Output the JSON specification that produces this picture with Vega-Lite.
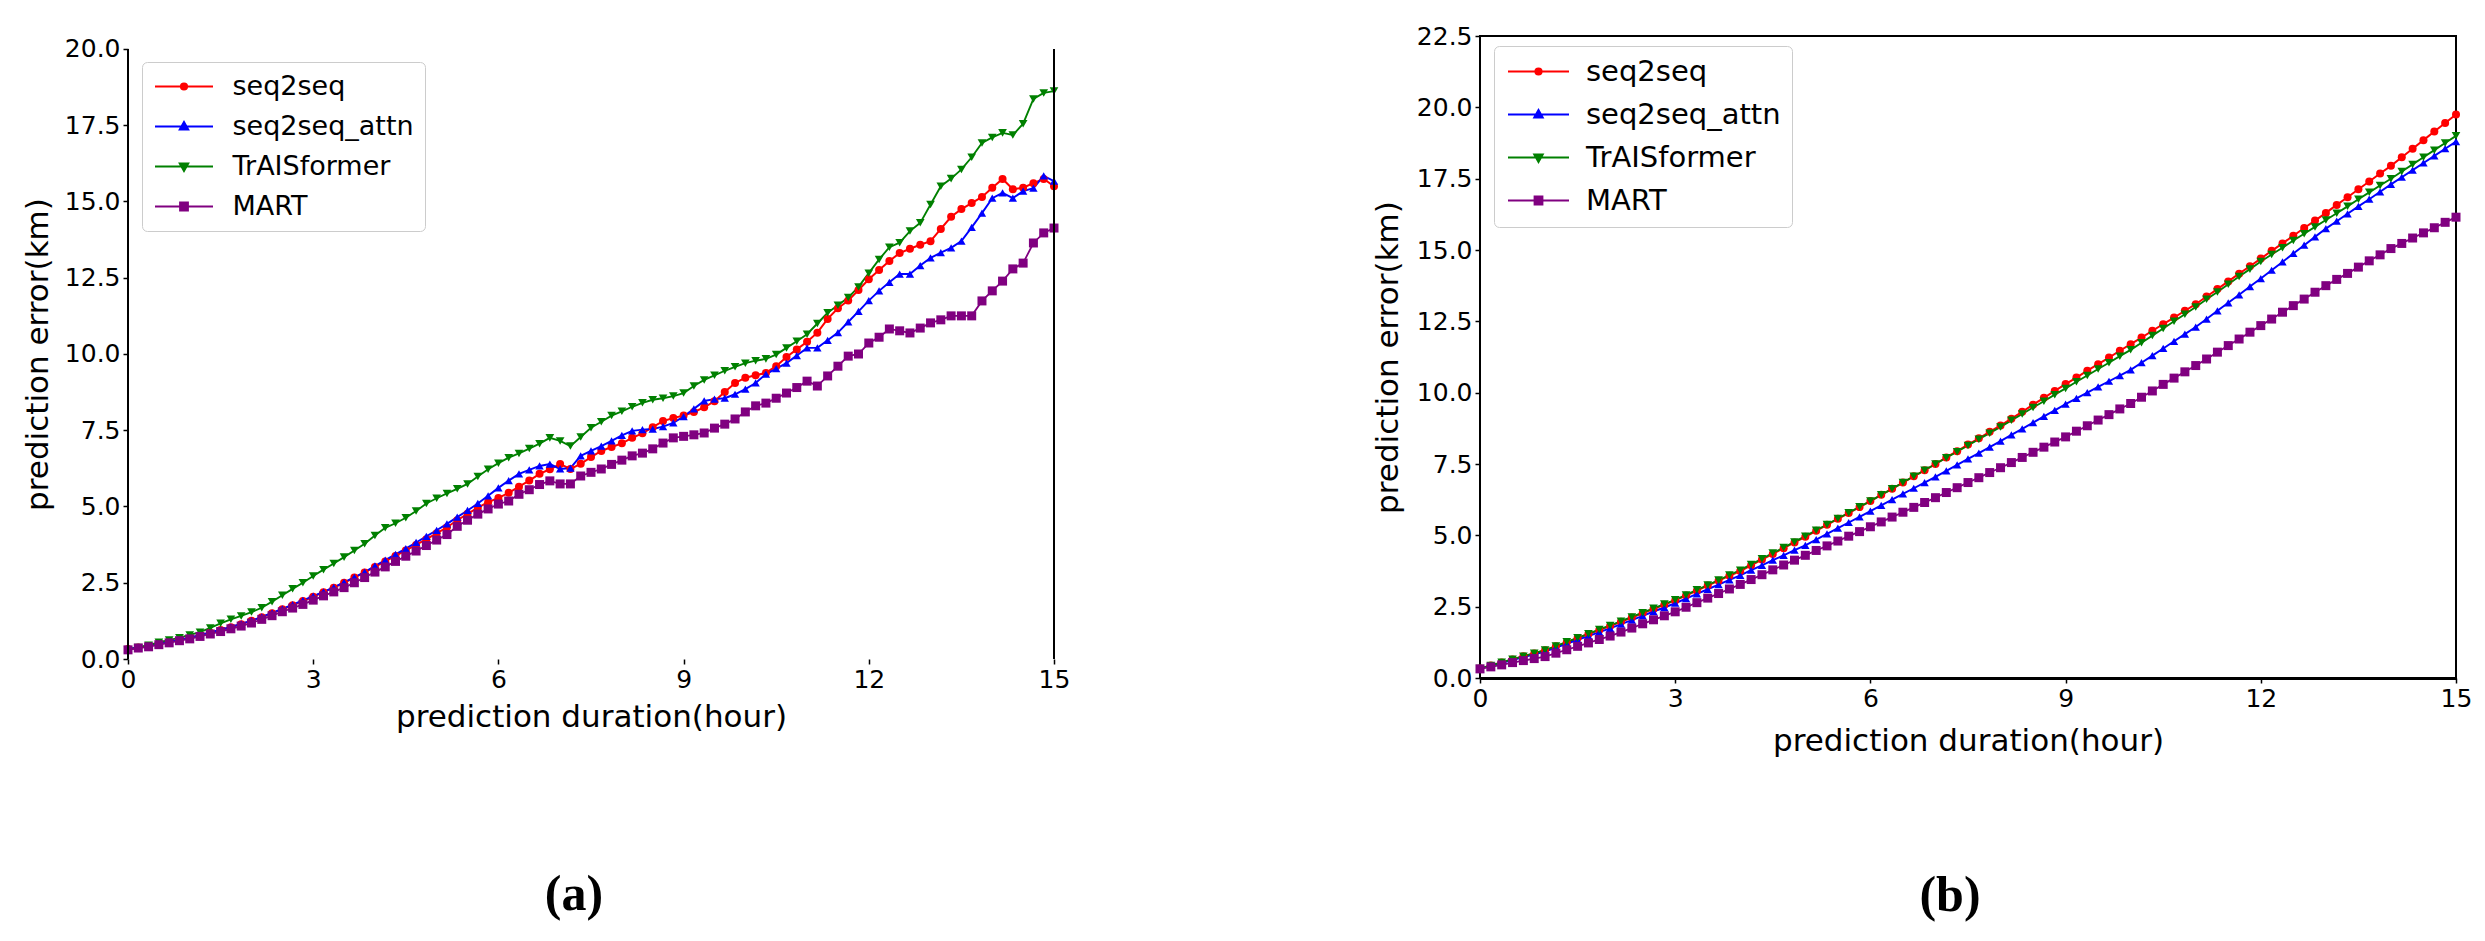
{
  "$schema": "https://vega.github.io/schema/vega-lite/v6.json",
  "padding": {"left": 22, "top": 23, "right": 10, "bottom": 10},
  "bounds": "flush",
  "spacing": 426,
  "datasets": {
    "a": [
      {"model":"seq2seq","t":0,"err":0.33},{"model":"seq2seq","t":10,"err":0.38},{"model":"seq2seq","t":20,"err":0.43},{"model":"seq2seq","t":30,"err":0.49},{"model":"seq2seq","t":40,"err":0.56},{"model":"seq2seq","t":50,"err":0.63},{"model":"seq2seq","t":60,"err":0.70},{"model":"seq2seq","t":70,"err":0.78},{"model":"seq2seq","t":80,"err":0.86},{"model":"seq2seq","t":90,"err":0.95},
      {"model":"seq2seq","t":100,"err":1.04},{"model":"seq2seq","t":110,"err":1.14},{"model":"seq2seq","t":120,"err":1.25},{"model":"seq2seq","t":130,"err":1.37},{"model":"seq2seq","t":140,"err":1.50},{"model":"seq2seq","t":150,"err":1.63},{"model":"seq2seq","t":160,"err":1.76},{"model":"seq2seq","t":170,"err":1.90},{"model":"seq2seq","t":180,"err":2.04},{"model":"seq2seq","t":190,"err":2.19},
      {"model":"seq2seq","t":200,"err":2.34},{"model":"seq2seq","t":210,"err":2.50},{"model":"seq2seq","t":220,"err":2.67},{"model":"seq2seq","t":230,"err":2.84},{"model":"seq2seq","t":240,"err":3.02},{"model":"seq2seq","t":250,"err":3.20},{"model":"seq2seq","t":260,"err":3.38},{"model":"seq2seq","t":270,"err":3.56},{"model":"seq2seq","t":280,"err":3.74},{"model":"seq2seq","t":290,"err":3.93},
      {"model":"seq2seq","t":300,"err":4.12},{"model":"seq2seq","t":310,"err":4.32},{"model":"seq2seq","t":320,"err":4.55},{"model":"seq2seq","t":330,"err":4.76},{"model":"seq2seq","t":340,"err":4.96},{"model":"seq2seq","t":350,"err":5.14},{"model":"seq2seq","t":360,"err":5.28},{"model":"seq2seq","t":370,"err":5.45},{"model":"seq2seq","t":380,"err":5.65},{"model":"seq2seq","t":390,"err":5.85},
      {"model":"seq2seq","t":400,"err":6.07},{"model":"seq2seq","t":410,"err":6.22},{"model":"seq2seq","t":420,"err":6.39},{"model":"seq2seq","t":430,"err":6.23},{"model":"seq2seq","t":440,"err":6.40},{"model":"seq2seq","t":450,"err":6.62},{"model":"seq2seq","t":460,"err":6.82},{"model":"seq2seq","t":470,"err":6.95},{"model":"seq2seq","t":480,"err":7.07},{"model":"seq2seq","t":490,"err":7.25},
      {"model":"seq2seq","t":500,"err":7.40},{"model":"seq2seq","t":510,"err":7.60},{"model":"seq2seq","t":520,"err":7.80},{"model":"seq2seq","t":530,"err":7.90},{"model":"seq2seq","t":540,"err":7.98},{"model":"seq2seq","t":550,"err":8.10},{"model":"seq2seq","t":560,"err":8.25},{"model":"seq2seq","t":570,"err":8.45},{"model":"seq2seq","t":580,"err":8.75},{"model":"seq2seq","t":590,"err":9.05},
      {"model":"seq2seq","t":600,"err":9.22},{"model":"seq2seq","t":610,"err":9.30},{"model":"seq2seq","t":620,"err":9.38},{"model":"seq2seq","t":630,"err":9.60},{"model":"seq2seq","t":640,"err":9.90},{"model":"seq2seq","t":650,"err":10.15},{"model":"seq2seq","t":660,"err":10.40},{"model":"seq2seq","t":670,"err":10.70},{"model":"seq2seq","t":680,"err":11.15},{"model":"seq2seq","t":690,"err":11.50},
      {"model":"seq2seq","t":700,"err":11.75},{"model":"seq2seq","t":710,"err":12.10},{"model":"seq2seq","t":720,"err":12.45},{"model":"seq2seq","t":730,"err":12.75},{"model":"seq2seq","t":740,"err":13.05},{"model":"seq2seq","t":750,"err":13.31},{"model":"seq2seq","t":760,"err":13.45},{"model":"seq2seq","t":770,"err":13.58},{"model":"seq2seq","t":780,"err":13.70},{"model":"seq2seq","t":790,"err":14.10},
      {"model":"seq2seq","t":800,"err":14.50},{"model":"seq2seq","t":810,"err":14.75},{"model":"seq2seq","t":820,"err":14.95},{"model":"seq2seq","t":830,"err":15.15},{"model":"seq2seq","t":840,"err":15.45},{"model":"seq2seq","t":850,"err":15.74},{"model":"seq2seq","t":860,"err":15.40},{"model":"seq2seq","t":870,"err":15.45},{"model":"seq2seq","t":880,"err":15.60},{"model":"seq2seq","t":890,"err":15.74},
      {"model":"seq2seq","t":900,"err":15.50},
      {"model":"seq2seq_attn","t":0,"err":0.33},{"model":"seq2seq_attn","t":10,"err":0.38},{"model":"seq2seq_attn","t":20,"err":0.44},{"model":"seq2seq_attn","t":30,"err":0.50},{"model":"seq2seq_attn","t":40,"err":0.56},{"model":"seq2seq_attn","t":50,"err":0.63},{"model":"seq2seq_attn","t":60,"err":0.70},{"model":"seq2seq_attn","t":70,"err":0.78},{"model":"seq2seq_attn","t":80,"err":0.87},{"model":"seq2seq_attn","t":90,"err":0.96},
      {"model":"seq2seq_attn","t":100,"err":1.05},{"model":"seq2seq_attn","t":110,"err":1.15},{"model":"seq2seq_attn","t":120,"err":1.26},{"model":"seq2seq_attn","t":130,"err":1.38},{"model":"seq2seq_attn","t":140,"err":1.51},{"model":"seq2seq_attn","t":150,"err":1.64},{"model":"seq2seq_attn","t":160,"err":1.78},{"model":"seq2seq_attn","t":170,"err":1.92},{"model":"seq2seq_attn","t":180,"err":2.06},{"model":"seq2seq_attn","t":190,"err":2.20},
      {"model":"seq2seq_attn","t":200,"err":2.35},{"model":"seq2seq_attn","t":210,"err":2.51},{"model":"seq2seq_attn","t":220,"err":2.68},{"model":"seq2seq_attn","t":230,"err":2.85},{"model":"seq2seq_attn","t":240,"err":3.05},{"model":"seq2seq_attn","t":250,"err":3.24},{"model":"seq2seq_attn","t":260,"err":3.43},{"model":"seq2seq_attn","t":270,"err":3.62},{"model":"seq2seq_attn","t":280,"err":3.82},{"model":"seq2seq_attn","t":290,"err":4.02},
      {"model":"seq2seq_attn","t":300,"err":4.22},{"model":"seq2seq_attn","t":310,"err":4.43},{"model":"seq2seq_attn","t":320,"err":4.65},{"model":"seq2seq_attn","t":330,"err":4.87},{"model":"seq2seq_attn","t":340,"err":5.10},{"model":"seq2seq_attn","t":350,"err":5.35},{"model":"seq2seq_attn","t":360,"err":5.61},{"model":"seq2seq_attn","t":370,"err":5.85},{"model":"seq2seq_attn","t":380,"err":6.07},{"model":"seq2seq_attn","t":390,"err":6.20},
      {"model":"seq2seq_attn","t":400,"err":6.33},{"model":"seq2seq_attn","t":410,"err":6.39},{"model":"seq2seq_attn","t":420,"err":6.23},{"model":"seq2seq_attn","t":430,"err":6.26},{"model":"seq2seq_attn","t":440,"err":6.66},{"model":"seq2seq_attn","t":450,"err":6.82},{"model":"seq2seq_attn","t":460,"err":6.98},{"model":"seq2seq_attn","t":470,"err":7.15},{"model":"seq2seq_attn","t":480,"err":7.33},{"model":"seq2seq_attn","t":490,"err":7.48},
      {"model":"seq2seq_attn","t":500,"err":7.52},{"model":"seq2seq_attn","t":510,"err":7.54},{"model":"seq2seq_attn","t":520,"err":7.62},{"model":"seq2seq_attn","t":530,"err":7.74},{"model":"seq2seq_attn","t":540,"err":7.95},{"model":"seq2seq_attn","t":550,"err":8.20},{"model":"seq2seq_attn","t":560,"err":8.46},{"model":"seq2seq_attn","t":570,"err":8.52},{"model":"seq2seq_attn","t":580,"err":8.55},{"model":"seq2seq_attn","t":590,"err":8.68},
      {"model":"seq2seq_attn","t":600,"err":8.85},{"model":"seq2seq_attn","t":610,"err":9.05},{"model":"seq2seq_attn","t":620,"err":9.34},{"model":"seq2seq_attn","t":630,"err":9.52},{"model":"seq2seq_attn","t":640,"err":9.70},{"model":"seq2seq_attn","t":650,"err":9.95},{"model":"seq2seq_attn","t":660,"err":10.20},{"model":"seq2seq_attn","t":670,"err":10.20},{"model":"seq2seq_attn","t":680,"err":10.45},{"model":"seq2seq_attn","t":690,"err":10.70},
      {"model":"seq2seq_attn","t":700,"err":11.05},{"model":"seq2seq_attn","t":710,"err":11.40},{"model":"seq2seq_attn","t":720,"err":11.75},{"model":"seq2seq_attn","t":730,"err":12.07},{"model":"seq2seq_attn","t":740,"err":12.35},{"model":"seq2seq_attn","t":750,"err":12.62},{"model":"seq2seq_attn","t":760,"err":12.62},{"model":"seq2seq_attn","t":770,"err":12.90},{"model":"seq2seq_attn","t":780,"err":13.15},{"model":"seq2seq_attn","t":790,"err":13.32},
      {"model":"seq2seq_attn","t":800,"err":13.48},{"model":"seq2seq_attn","t":810,"err":13.70},{"model":"seq2seq_attn","t":820,"err":14.15},{"model":"seq2seq_attn","t":830,"err":14.62},{"model":"seq2seq_attn","t":840,"err":15.11},{"model":"seq2seq_attn","t":850,"err":15.28},{"model":"seq2seq_attn","t":860,"err":15.11},{"model":"seq2seq_attn","t":870,"err":15.34},{"model":"seq2seq_attn","t":880,"err":15.44},{"model":"seq2seq_attn","t":890,"err":15.84},
      {"model":"seq2seq_attn","t":900,"err":15.67},
      {"model":"TrAISformer","t":0,"err":0.30},{"model":"TrAISformer","t":10,"err":0.38},{"model":"TrAISformer","t":20,"err":0.45},{"model":"TrAISformer","t":30,"err":0.55},{"model":"TrAISformer","t":40,"err":0.62},{"model":"TrAISformer","t":50,"err":0.70},{"model":"TrAISformer","t":60,"err":0.79},{"model":"TrAISformer","t":70,"err":0.88},{"model":"TrAISformer","t":80,"err":1.02},{"model":"TrAISformer","t":90,"err":1.17},
      {"model":"TrAISformer","t":100,"err":1.30},{"model":"TrAISformer","t":110,"err":1.41},{"model":"TrAISformer","t":120,"err":1.54},{"model":"TrAISformer","t":130,"err":1.68},{"model":"TrAISformer","t":140,"err":1.88},{"model":"TrAISformer","t":150,"err":2.09},{"model":"TrAISformer","t":160,"err":2.30},{"model":"TrAISformer","t":170,"err":2.50},{"model":"TrAISformer","t":180,"err":2.72},{"model":"TrAISformer","t":190,"err":2.93},
      {"model":"TrAISformer","t":200,"err":3.13},{"model":"TrAISformer","t":210,"err":3.34},{"model":"TrAISformer","t":220,"err":3.56},{"model":"TrAISformer","t":230,"err":3.78},{"model":"TrAISformer","t":240,"err":4.05},{"model":"TrAISformer","t":250,"err":4.30},{"model":"TrAISformer","t":260,"err":4.45},{"model":"TrAISformer","t":270,"err":4.63},{"model":"TrAISformer","t":280,"err":4.85},{"model":"TrAISformer","t":290,"err":5.10},
      {"model":"TrAISformer","t":300,"err":5.27},{"model":"TrAISformer","t":310,"err":5.43},{"model":"TrAISformer","t":320,"err":5.58},{"model":"TrAISformer","t":330,"err":5.74},{"model":"TrAISformer","t":340,"err":5.98},{"model":"TrAISformer","t":350,"err":6.22},{"model":"TrAISformer","t":360,"err":6.42},{"model":"TrAISformer","t":370,"err":6.60},{"model":"TrAISformer","t":380,"err":6.74},{"model":"TrAISformer","t":390,"err":6.90},
      {"model":"TrAISformer","t":400,"err":7.06},{"model":"TrAISformer","t":410,"err":7.25},{"model":"TrAISformer","t":420,"err":7.15},{"model":"TrAISformer","t":430,"err":6.98},{"model":"TrAISformer","t":440,"err":7.28},{"model":"TrAISformer","t":450,"err":7.58},{"model":"TrAISformer","t":460,"err":7.78},{"model":"TrAISformer","t":470,"err":7.98},{"model":"TrAISformer","t":480,"err":8.12},{"model":"TrAISformer","t":490,"err":8.27},
      {"model":"TrAISformer","t":500,"err":8.40},{"model":"TrAISformer","t":510,"err":8.50},{"model":"TrAISformer","t":520,"err":8.55},{"model":"TrAISformer","t":530,"err":8.62},{"model":"TrAISformer","t":540,"err":8.72},{"model":"TrAISformer","t":550,"err":8.95},{"model":"TrAISformer","t":560,"err":9.15},{"model":"TrAISformer","t":570,"err":9.30},{"model":"TrAISformer","t":580,"err":9.45},{"model":"TrAISformer","t":590,"err":9.58},
      {"model":"TrAISformer","t":600,"err":9.70},{"model":"TrAISformer","t":610,"err":9.78},{"model":"TrAISformer","t":620,"err":9.84},{"model":"TrAISformer","t":630,"err":9.98},{"model":"TrAISformer","t":640,"err":10.20},{"model":"TrAISformer","t":650,"err":10.42},{"model":"TrAISformer","t":660,"err":10.65},{"model":"TrAISformer","t":670,"err":11.00},{"model":"TrAISformer","t":680,"err":11.35},{"model":"TrAISformer","t":690,"err":11.60},
      {"model":"TrAISformer","t":700,"err":11.85},{"model":"TrAISformer","t":710,"err":12.20},{"model":"TrAISformer","t":720,"err":12.65},{"model":"TrAISformer","t":730,"err":13.10},{"model":"TrAISformer","t":740,"err":13.50},{"model":"TrAISformer","t":750,"err":13.65},{"model":"TrAISformer","t":760,"err":14.03},{"model":"TrAISformer","t":770,"err":14.30},{"model":"TrAISformer","t":780,"err":14.90},{"model":"TrAISformer","t":790,"err":15.50},
      {"model":"TrAISformer","t":800,"err":15.75},{"model":"TrAISformer","t":810,"err":16.05},{"model":"TrAISformer","t":820,"err":16.45},{"model":"TrAISformer","t":830,"err":16.92},{"model":"TrAISformer","t":840,"err":17.10},{"model":"TrAISformer","t":850,"err":17.25},{"model":"TrAISformer","t":860,"err":17.18},{"model":"TrAISformer","t":870,"err":17.55},{"model":"TrAISformer","t":880,"err":18.36},{"model":"TrAISformer","t":890,"err":18.56},
      {"model":"TrAISformer","t":900,"err":18.62},
      {"model":"MART","t":0,"err":0.30},{"model":"MART","t":10,"err":0.36},{"model":"MART","t":20,"err":0.40},{"model":"MART","t":30,"err":0.47},{"model":"MART","t":40,"err":0.53},{"model":"MART","t":50,"err":0.60},{"model":"MART","t":60,"err":0.66},{"model":"MART","t":70,"err":0.74},{"model":"MART","t":80,"err":0.82},{"model":"MART","t":90,"err":0.90},
      {"model":"MART","t":100,"err":0.99},{"model":"MART","t":110,"err":1.08},{"model":"MART","t":120,"err":1.18},{"model":"MART","t":130,"err":1.30},{"model":"MART","t":140,"err":1.42},{"model":"MART","t":150,"err":1.55},{"model":"MART","t":160,"err":1.67},{"model":"MART","t":170,"err":1.79},{"model":"MART","t":180,"err":1.93},{"model":"MART","t":190,"err":2.07},
      {"model":"MART","t":200,"err":2.20},{"model":"MART","t":210,"err":2.34},{"model":"MART","t":220,"err":2.50},{"model":"MART","t":230,"err":2.67},{"model":"MART","t":240,"err":2.85},{"model":"MART","t":250,"err":3.02},{"model":"MART","t":260,"err":3.20},{"model":"MART","t":270,"err":3.37},{"model":"MART","t":280,"err":3.54},{"model":"MART","t":290,"err":3.72},
      {"model":"MART","t":300,"err":3.90},{"model":"MART","t":310,"err":4.08},{"model":"MART","t":320,"err":4.35},{"model":"MART","t":330,"err":4.55},{"model":"MART","t":340,"err":4.75},{"model":"MART","t":350,"err":4.92},{"model":"MART","t":360,"err":5.08},{"model":"MART","t":370,"err":5.18},{"model":"MART","t":380,"err":5.40},{"model":"MART","t":390,"err":5.55},
      {"model":"MART","t":400,"err":5.72},{"model":"MART","t":410,"err":5.84},{"model":"MART","t":420,"err":5.74},{"model":"MART","t":430,"err":5.74},{"model":"MART","t":440,"err":6.00},{"model":"MART","t":450,"err":6.12},{"model":"MART","t":460,"err":6.23},{"model":"MART","t":470,"err":6.38},{"model":"MART","t":480,"err":6.52},{"model":"MART","t":490,"err":6.66},
      {"model":"MART","t":500,"err":6.75},{"model":"MART","t":510,"err":6.89},{"model":"MART","t":520,"err":7.08},{"model":"MART","t":530,"err":7.25},{"model":"MART","t":540,"err":7.30},{"model":"MART","t":550,"err":7.35},{"model":"MART","t":560,"err":7.41},{"model":"MART","t":570,"err":7.57},{"model":"MART","t":580,"err":7.70},{"model":"MART","t":590,"err":7.87},
      {"model":"MART","t":600,"err":8.10},{"model":"MART","t":610,"err":8.30},{"model":"MART","t":620,"err":8.39},{"model":"MART","t":630,"err":8.55},{"model":"MART","t":640,"err":8.72},{"model":"MART","t":650,"err":8.90},{"model":"MART","t":660,"err":9.11},{"model":"MART","t":670,"err":8.95},{"model":"MART","t":680,"err":9.28},{"model":"MART","t":690,"err":9.60},
      {"model":"MART","t":700,"err":9.93},{"model":"MART","t":710,"err":10.00},{"model":"MART","t":720,"err":10.36},{"model":"MART","t":730,"err":10.55},{"model":"MART","t":740,"err":10.82},{"model":"MART","t":750,"err":10.76},{"model":"MART","t":760,"err":10.69},{"model":"MART","t":770,"err":10.85},{"model":"MART","t":780,"err":11.02},{"model":"MART","t":790,"err":11.12},
      {"model":"MART","t":800,"err":11.25},{"model":"MART","t":810,"err":11.25},{"model":"MART","t":820,"err":11.25},{"model":"MART","t":830,"err":11.74},{"model":"MART","t":840,"err":12.07},{"model":"MART","t":850,"err":12.39},{"model":"MART","t":860,"err":12.79},{"model":"MART","t":870,"err":12.98},{"model":"MART","t":880,"err":13.64},{"model":"MART","t":890,"err":13.97},
      {"model":"MART","t":900,"err":14.13}
    ],
    "b": [
      {"model":"seq2seq","t":0,"err":0.33},{"model":"seq2seq","t":10,"err":0.44},{"model":"seq2seq","t":20,"err":0.54},{"model":"seq2seq","t":30,"err":0.65},{"model":"seq2seq","t":40,"err":0.76},{"model":"seq2seq","t":50,"err":0.86},
      {"model":"seq2seq","t":60,"err":0.97},{"model":"seq2seq","t":70,"err":1.11},{"model":"seq2seq","t":80,"err":1.25},{"model":"seq2seq","t":90,"err":1.40},{"model":"seq2seq","t":100,"err":1.54},{"model":"seq2seq","t":110,"err":1.68},
      {"model":"seq2seq","t":120,"err":1.82},{"model":"seq2seq","t":130,"err":1.97},{"model":"seq2seq","t":140,"err":2.12},{"model":"seq2seq","t":150,"err":2.27},{"model":"seq2seq","t":160,"err":2.42},{"model":"seq2seq","t":170,"err":2.57},
      {"model":"seq2seq","t":180,"err":2.72},{"model":"seq2seq","t":190,"err":2.89},{"model":"seq2seq","t":200,"err":3.06},{"model":"seq2seq","t":210,"err":3.24},{"model":"seq2seq","t":220,"err":3.41},{"model":"seq2seq","t":230,"err":3.58},
      {"model":"seq2seq","t":240,"err":3.75},{"model":"seq2seq","t":250,"err":3.95},{"model":"seq2seq","t":260,"err":4.15},{"model":"seq2seq","t":270,"err":4.35},{"model":"seq2seq","t":280,"err":4.55},{"model":"seq2seq","t":290,"err":4.75},
      {"model":"seq2seq","t":300,"err":4.95},{"model":"seq2seq","t":310,"err":5.16},{"model":"seq2seq","t":320,"err":5.37},{"model":"seq2seq","t":330,"err":5.58},{"model":"seq2seq","t":340,"err":5.78},{"model":"seq2seq","t":350,"err":5.99},
      {"model":"seq2seq","t":360,"err":6.20},{"model":"seq2seq","t":370,"err":6.42},{"model":"seq2seq","t":380,"err":6.63},{"model":"seq2seq","t":390,"err":6.85},{"model":"seq2seq","t":400,"err":7.07},{"model":"seq2seq","t":410,"err":7.28},
      {"model":"seq2seq","t":420,"err":7.50},{"model":"seq2seq","t":430,"err":7.73},{"model":"seq2seq","t":440,"err":7.95},{"model":"seq2seq","t":450,"err":8.18},{"model":"seq2seq","t":460,"err":8.40},{"model":"seq2seq","t":470,"err":8.63},
      {"model":"seq2seq","t":480,"err":8.85},{"model":"seq2seq","t":490,"err":9.09},{"model":"seq2seq","t":500,"err":9.33},{"model":"seq2seq","t":510,"err":9.58},{"model":"seq2seq","t":520,"err":9.82},{"model":"seq2seq","t":530,"err":10.06},
      {"model":"seq2seq","t":540,"err":10.30},{"model":"seq2seq","t":550,"err":10.53},{"model":"seq2seq","t":560,"err":10.77},{"model":"seq2seq","t":570,"err":11.00},{"model":"seq2seq","t":580,"err":11.23},{"model":"seq2seq","t":590,"err":11.47},
      {"model":"seq2seq","t":600,"err":11.70},{"model":"seq2seq","t":610,"err":11.93},{"model":"seq2seq","t":620,"err":12.17},{"model":"seq2seq","t":630,"err":12.40},{"model":"seq2seq","t":640,"err":12.63},{"model":"seq2seq","t":650,"err":12.87},
      {"model":"seq2seq","t":660,"err":13.10},{"model":"seq2seq","t":670,"err":13.37},{"model":"seq2seq","t":680,"err":13.63},{"model":"seq2seq","t":690,"err":13.90},{"model":"seq2seq","t":700,"err":14.17},{"model":"seq2seq","t":710,"err":14.43},
      {"model":"seq2seq","t":720,"err":14.70},{"model":"seq2seq","t":730,"err":14.97},{"model":"seq2seq","t":740,"err":15.23},{"model":"seq2seq","t":750,"err":15.50},{"model":"seq2seq","t":760,"err":15.77},{"model":"seq2seq","t":770,"err":16.03},
      {"model":"seq2seq","t":780,"err":16.30},{"model":"seq2seq","t":790,"err":16.58},{"model":"seq2seq","t":800,"err":16.85},{"model":"seq2seq","t":810,"err":17.13},{"model":"seq2seq","t":820,"err":17.40},{"model":"seq2seq","t":830,"err":17.68},
      {"model":"seq2seq","t":840,"err":17.95},{"model":"seq2seq","t":850,"err":18.25},{"model":"seq2seq","t":860,"err":18.55},{"model":"seq2seq","t":870,"err":18.85},{"model":"seq2seq","t":880,"err":19.15},{"model":"seq2seq","t":890,"err":19.45},
      {"model":"seq2seq","t":900,"err":19.75},
      {"model":"seq2seq_attn","t":0,"err":0.33},{"model":"seq2seq_attn","t":10,"err":0.43},{"model":"seq2seq_attn","t":20,"err":0.53},{"model":"seq2seq_attn","t":30,"err":0.63},{"model":"seq2seq_attn","t":40,"err":0.73},{"model":"seq2seq_attn","t":50,"err":0.83},
      {"model":"seq2seq_attn","t":60,"err":0.93},{"model":"seq2seq_attn","t":70,"err":1.07},{"model":"seq2seq_attn","t":80,"err":1.20},{"model":"seq2seq_attn","t":90,"err":1.34},{"model":"seq2seq_attn","t":100,"err":1.47},{"model":"seq2seq_attn","t":110,"err":1.61},
      {"model":"seq2seq_attn","t":120,"err":1.74},{"model":"seq2seq_attn","t":130,"err":1.89},{"model":"seq2seq_attn","t":140,"err":2.03},{"model":"seq2seq_attn","t":150,"err":2.18},{"model":"seq2seq_attn","t":160,"err":2.33},{"model":"seq2seq_attn","t":170,"err":2.47},
      {"model":"seq2seq_attn","t":180,"err":2.62},{"model":"seq2seq_attn","t":190,"err":2.78},{"model":"seq2seq_attn","t":200,"err":2.95},{"model":"seq2seq_attn","t":210,"err":3.11},{"model":"seq2seq_attn","t":220,"err":3.27},{"model":"seq2seq_attn","t":230,"err":3.44},
      {"model":"seq2seq_attn","t":240,"err":3.60},{"model":"seq2seq_attn","t":250,"err":3.78},{"model":"seq2seq_attn","t":260,"err":3.95},{"model":"seq2seq_attn","t":270,"err":4.13},{"model":"seq2seq_attn","t":280,"err":4.30},{"model":"seq2seq_attn","t":290,"err":4.48},
      {"model":"seq2seq_attn","t":300,"err":4.65},{"model":"seq2seq_attn","t":310,"err":4.85},{"model":"seq2seq_attn","t":320,"err":5.05},{"model":"seq2seq_attn","t":330,"err":5.25},{"model":"seq2seq_attn","t":340,"err":5.45},{"model":"seq2seq_attn","t":350,"err":5.65},
      {"model":"seq2seq_attn","t":360,"err":5.85},{"model":"seq2seq_attn","t":370,"err":6.05},{"model":"seq2seq_attn","t":380,"err":6.25},{"model":"seq2seq_attn","t":390,"err":6.45},{"model":"seq2seq_attn","t":400,"err":6.65},{"model":"seq2seq_attn","t":410,"err":6.85},
      {"model":"seq2seq_attn","t":420,"err":7.05},{"model":"seq2seq_attn","t":430,"err":7.26},{"model":"seq2seq_attn","t":440,"err":7.47},{"model":"seq2seq_attn","t":450,"err":7.68},{"model":"seq2seq_attn","t":460,"err":7.88},{"model":"seq2seq_attn","t":470,"err":8.09},
      {"model":"seq2seq_attn","t":480,"err":8.30},{"model":"seq2seq_attn","t":490,"err":8.52},{"model":"seq2seq_attn","t":500,"err":8.73},{"model":"seq2seq_attn","t":510,"err":8.95},{"model":"seq2seq_attn","t":520,"err":9.17},{"model":"seq2seq_attn","t":530,"err":9.38},
      {"model":"seq2seq_attn","t":540,"err":9.60},{"model":"seq2seq_attn","t":550,"err":9.80},{"model":"seq2seq_attn","t":560,"err":10.00},{"model":"seq2seq_attn","t":570,"err":10.20},{"model":"seq2seq_attn","t":580,"err":10.40},{"model":"seq2seq_attn","t":590,"err":10.60},
      {"model":"seq2seq_attn","t":600,"err":10.80},{"model":"seq2seq_attn","t":610,"err":11.05},{"model":"seq2seq_attn","t":620,"err":11.30},{"model":"seq2seq_attn","t":630,"err":11.55},{"model":"seq2seq_attn","t":640,"err":11.80},{"model":"seq2seq_attn","t":650,"err":12.05},
      {"model":"seq2seq_attn","t":660,"err":12.30},{"model":"seq2seq_attn","t":670,"err":12.58},{"model":"seq2seq_attn","t":680,"err":12.87},{"model":"seq2seq_attn","t":690,"err":13.15},{"model":"seq2seq_attn","t":700,"err":13.43},{"model":"seq2seq_attn","t":710,"err":13.72},
      {"model":"seq2seq_attn","t":720,"err":14.00},{"model":"seq2seq_attn","t":730,"err":14.29},{"model":"seq2seq_attn","t":740,"err":14.58},{"model":"seq2seq_attn","t":750,"err":14.88},{"model":"seq2seq_attn","t":760,"err":15.17},{"model":"seq2seq_attn","t":770,"err":15.46},
      {"model":"seq2seq_attn","t":780,"err":15.75},{"model":"seq2seq_attn","t":790,"err":16.01},{"model":"seq2seq_attn","t":800,"err":16.27},{"model":"seq2seq_attn","t":810,"err":16.53},{"model":"seq2seq_attn","t":820,"err":16.78},{"model":"seq2seq_attn","t":830,"err":17.04},
      {"model":"seq2seq_attn","t":840,"err":17.30},{"model":"seq2seq_attn","t":850,"err":17.55},{"model":"seq2seq_attn","t":860,"err":17.80},{"model":"seq2seq_attn","t":870,"err":18.05},{"model":"seq2seq_attn","t":880,"err":18.30},{"model":"seq2seq_attn","t":890,"err":18.55},
      {"model":"seq2seq_attn","t":900,"err":18.80},
      {"model":"TrAISformer","t":0,"err":0.33},{"model":"TrAISformer","t":10,"err":0.44},{"model":"TrAISformer","t":20,"err":0.55},{"model":"TrAISformer","t":30,"err":0.66},{"model":"TrAISformer","t":40,"err":0.76},{"model":"TrAISformer","t":50,"err":0.87},
      {"model":"TrAISformer","t":60,"err":0.98},{"model":"TrAISformer","t":70,"err":1.12},{"model":"TrAISformer","t":80,"err":1.27},{"model":"TrAISformer","t":90,"err":1.41},{"model":"TrAISformer","t":100,"err":1.55},{"model":"TrAISformer","t":110,"err":1.70},
      {"model":"TrAISformer","t":120,"err":1.84},{"model":"TrAISformer","t":130,"err":1.99},{"model":"TrAISformer","t":140,"err":2.14},{"model":"TrAISformer","t":150,"err":2.29},{"model":"TrAISformer","t":160,"err":2.44},{"model":"TrAISformer","t":170,"err":2.59},
      {"model":"TrAISformer","t":180,"err":2.74},{"model":"TrAISformer","t":190,"err":2.91},{"model":"TrAISformer","t":200,"err":3.09},{"model":"TrAISformer","t":210,"err":3.26},{"model":"TrAISformer","t":220,"err":3.43},{"model":"TrAISformer","t":230,"err":3.61},
      {"model":"TrAISformer","t":240,"err":3.78},{"model":"TrAISformer","t":250,"err":3.98},{"model":"TrAISformer","t":260,"err":4.18},{"model":"TrAISformer","t":270,"err":4.38},{"model":"TrAISformer","t":280,"err":4.57},{"model":"TrAISformer","t":290,"err":4.77},
      {"model":"TrAISformer","t":300,"err":4.97},{"model":"TrAISformer","t":310,"err":5.18},{"model":"TrAISformer","t":320,"err":5.38},{"model":"TrAISformer","t":330,"err":5.59},{"model":"TrAISformer","t":340,"err":5.79},{"model":"TrAISformer","t":350,"err":6.00},
      {"model":"TrAISformer","t":360,"err":6.20},{"model":"TrAISformer","t":370,"err":6.42},{"model":"TrAISformer","t":380,"err":6.63},{"model":"TrAISformer","t":390,"err":6.85},{"model":"TrAISformer","t":400,"err":7.07},{"model":"TrAISformer","t":410,"err":7.28},
      {"model":"TrAISformer","t":420,"err":7.50},{"model":"TrAISformer","t":430,"err":7.72},{"model":"TrAISformer","t":440,"err":7.93},{"model":"TrAISformer","t":450,"err":8.15},{"model":"TrAISformer","t":460,"err":8.37},{"model":"TrAISformer","t":470,"err":8.58},
      {"model":"TrAISformer","t":480,"err":8.80},{"model":"TrAISformer","t":490,"err":9.03},{"model":"TrAISformer","t":500,"err":9.25},{"model":"TrAISformer","t":510,"err":9.48},{"model":"TrAISformer","t":520,"err":9.70},{"model":"TrAISformer","t":530,"err":9.93},
      {"model":"TrAISformer","t":540,"err":10.15},{"model":"TrAISformer","t":550,"err":10.38},{"model":"TrAISformer","t":560,"err":10.60},{"model":"TrAISformer","t":570,"err":10.83},{"model":"TrAISformer","t":580,"err":11.05},{"model":"TrAISformer","t":590,"err":11.28},
      {"model":"TrAISformer","t":600,"err":11.50},{"model":"TrAISformer","t":610,"err":11.75},{"model":"TrAISformer","t":620,"err":12.00},{"model":"TrAISformer","t":630,"err":12.25},{"model":"TrAISformer","t":640,"err":12.50},{"model":"TrAISformer","t":650,"err":12.75},
      {"model":"TrAISformer","t":660,"err":13.00},{"model":"TrAISformer","t":670,"err":13.27},{"model":"TrAISformer","t":680,"err":13.53},{"model":"TrAISformer","t":690,"err":13.80},{"model":"TrAISformer","t":700,"err":14.07},{"model":"TrAISformer","t":710,"err":14.33},
      {"model":"TrAISformer","t":720,"err":14.60},{"model":"TrAISformer","t":730,"err":14.84},{"model":"TrAISformer","t":740,"err":15.08},{"model":"TrAISformer","t":750,"err":15.33},{"model":"TrAISformer","t":760,"err":15.57},{"model":"TrAISformer","t":770,"err":15.81},
      {"model":"TrAISformer","t":780,"err":16.05},{"model":"TrAISformer","t":790,"err":16.29},{"model":"TrAISformer","t":800,"err":16.53},{"model":"TrAISformer","t":810,"err":16.78},{"model":"TrAISformer","t":820,"err":17.02},{"model":"TrAISformer","t":830,"err":17.26},
      {"model":"TrAISformer","t":840,"err":17.50},{"model":"TrAISformer","t":850,"err":17.75},{"model":"TrAISformer","t":860,"err":18.00},{"model":"TrAISformer","t":870,"err":18.25},{"model":"TrAISformer","t":880,"err":18.50},{"model":"TrAISformer","t":890,"err":18.75},
      {"model":"TrAISformer","t":900,"err":19.00},
      {"model":"MART","t":0,"err":0.32},{"model":"MART","t":10,"err":0.39},{"model":"MART","t":20,"err":0.46},{"model":"MART","t":30,"err":0.54},{"model":"MART","t":40,"err":0.61},{"model":"MART","t":50,"err":0.68},
      {"model":"MART","t":60,"err":0.75},{"model":"MART","t":70,"err":0.87},{"model":"MART","t":80,"err":0.99},{"model":"MART","t":90,"err":1.11},{"model":"MART","t":100,"err":1.23},{"model":"MART","t":110,"err":1.35},
      {"model":"MART","t":120,"err":1.47},{"model":"MART","t":130,"err":1.61},{"model":"MART","t":140,"err":1.75},{"model":"MART","t":150,"err":1.90},{"model":"MART","t":160,"err":2.04},{"model":"MART","t":170,"err":2.18},
      {"model":"MART","t":180,"err":2.32},{"model":"MART","t":190,"err":2.48},{"model":"MART","t":200,"err":2.64},{"model":"MART","t":210,"err":2.80},{"model":"MART","t":220,"err":2.96},{"model":"MART","t":230,"err":3.12},
      {"model":"MART","t":240,"err":3.28},{"model":"MART","t":250,"err":3.45},{"model":"MART","t":260,"err":3.62},{"model":"MART","t":270,"err":3.79},{"model":"MART","t":280,"err":3.96},{"model":"MART","t":290,"err":4.13},
      {"model":"MART","t":300,"err":4.30},{"model":"MART","t":310,"err":4.47},{"model":"MART","t":320,"err":4.63},{"model":"MART","t":330,"err":4.80},{"model":"MART","t":340,"err":4.97},{"model":"MART","t":350,"err":5.13},
      {"model":"MART","t":360,"err":5.30},{"model":"MART","t":370,"err":5.47},{"model":"MART","t":380,"err":5.64},{"model":"MART","t":390,"err":5.81},{"model":"MART","t":400,"err":5.98},{"model":"MART","t":410,"err":6.15},
      {"model":"MART","t":420,"err":6.32},{"model":"MART","t":430,"err":6.50},{"model":"MART","t":440,"err":6.67},{"model":"MART","t":450,"err":6.85},{"model":"MART","t":460,"err":7.02},{"model":"MART","t":470,"err":7.20},
      {"model":"MART","t":480,"err":7.37},{"model":"MART","t":490,"err":7.55},{"model":"MART","t":500,"err":7.73},{"model":"MART","t":510,"err":7.91},{"model":"MART","t":520,"err":8.09},{"model":"MART","t":530,"err":8.27},
      {"model":"MART","t":540,"err":8.45},{"model":"MART","t":550,"err":8.65},{"model":"MART","t":560,"err":8.84},{"model":"MART","t":570,"err":9.04},{"model":"MART","t":580,"err":9.23},{"model":"MART","t":590,"err":9.43},
      {"model":"MART","t":600,"err":9.62},{"model":"MART","t":610,"err":9.84},{"model":"MART","t":620,"err":10.06},{"model":"MART","t":630,"err":10.29},{"model":"MART","t":640,"err":10.51},{"model":"MART","t":650,"err":10.73},
      {"model":"MART","t":660,"err":10.95},{"model":"MART","t":670,"err":11.18},{"model":"MART","t":680,"err":11.42},{"model":"MART","t":690,"err":11.65},{"model":"MART","t":700,"err":11.88},{"model":"MART","t":710,"err":12.12},
      {"model":"MART","t":720,"err":12.35},{"model":"MART","t":730,"err":12.58},{"model":"MART","t":740,"err":12.82},{"model":"MART","t":750,"err":13.05},{"model":"MART","t":760,"err":13.28},{"model":"MART","t":770,"err":13.52},
      {"model":"MART","t":780,"err":13.75},{"model":"MART","t":790,"err":13.97},{"model":"MART","t":800,"err":14.18},{"model":"MART","t":810,"err":14.40},{"model":"MART","t":820,"err":14.62},{"model":"MART","t":830,"err":14.83},
      {"model":"MART","t":840,"err":15.05},{"model":"MART","t":850,"err":15.23},{"model":"MART","t":860,"err":15.42},{"model":"MART","t":870,"err":15.60},{"model":"MART","t":880,"err":15.78},{"model":"MART","t":890,"err":15.97},
      {"model":"MART","t":900,"err":16.15}
    ]
  },
  "hconcat": [
    {
      "width": 926,
      "height": 623,
      "title": {"text": "(a)", "orient": "bottom", "anchor": "middle", "frame": "group", "font": "Liberation Serif", "fontSize": 50, "fontWeight": "bold", "color": "#000", "offset": 138, "dx": -17},
      "layer": [
        {
          "data": {"name": "a"},
          "encoding": {
            "x": {"field": "t", "type": "quantitative", "title": "prediction duration(hour)", "scale": {"domain": [0, 900], "nice": false, "zero": false},
                  "axis": {"values": [0, 180, 360, 540, 720, 900], "labelExpr": "format(datum.value / 60, 'd')", "labelFlush": false, "domain": false, "titlePadding": 10}},
            "y": {"field": "err", "type": "quantitative", "title": "prediction error(km)", "scale": {"domain": [0, 20.426], "nice": false, "zero": false},
                  "axis": {"values": [0, 2.5, 5, 7.5, 10, 12.5, 15, 17.5, 20], "format": ".1f", "labelFlush": false, "domain": false, "titlePadding": 10, "titleY": 318}}
          },
          "layer": [
            {
              "mark": {"type": "line"},
              "encoding": {
                "color": {"field": "model", "type": "nominal", "scale": {"domain": ["seq2seq", "seq2seq_attn", "TrAISformer", "MART"], "range": ["#ff0000", "#0000ff", "#008000", "#800080"]}, "legend": null},
                "strokeWidth": {"field": "model", "type": "nominal", "scale": {"domain": ["seq2seq", "seq2seq_attn", "TrAISformer", "MART"], "range": [2, 1.8, 2.5, 3]}, "legend": null}
              }
            },
            {
              "mark": {"type": "point", "filled": true, "opacity": 1},
              "encoding": {
                "color": {"field": "model", "type": "nominal", "scale": {"domain": ["seq2seq", "seq2seq_attn", "TrAISformer", "MART"], "range": ["#ff0000", "#0000ff", "#008000", "#800080"]}, "legend": null},
                "shape": {"field": "model", "type": "nominal", "scale": {"domain": ["seq2seq", "seq2seq_attn", "TrAISformer", "MART"], "range": ["circle", "triangle-up", "triangle-down", "square"]}, "legend": null},
                "size": {"field": "model", "type": "nominal", "scale": {"domain": ["seq2seq", "seq2seq_attn", "TrAISformer", "MART"], "range": [64, 81, 81, 100]}, "legend": null}
              }
            },
            {
              "transform": [{"filter": "false"}],
              "mark": {"type": "point", "filled": true, "opacity": 1, "size": 400},
              "encoding": {
                "fill": {"field": "model", "type": "nominal", "scale": {"domain": ["seq2seq", "seq2seq_attn", "TrAISformer", "MART"], "range": ["#ff0000", "#0000ff", "#008000", "#800080"]},
                         "legend": {"title": null, "orient": "none", "legendX": 14, "legendY": 26, "fillColor": "#ffffff", "strokeColor": "#cccccc", "cornerRadius": 5, "padding": 11, "labelFontSize": 27, "labelOffset": 35, "symbolOffset": 17.5, "rowPadding": 12, "symbolSize": 400, "symbolStrokeWidth": 2.2, "labelLimit": 500}},
                "stroke": {"field": "model", "type": "nominal", "scale": {"domain": ["seq2seq", "seq2seq_attn", "TrAISformer", "MART"], "range": ["#ff0000", "#0000ff", "#008000", "#800080"]},
                         "legend": {"title": null, "orient": "none", "legendX": 14, "legendY": 26, "fillColor": "#ffffff", "strokeColor": "#cccccc", "cornerRadius": 5, "padding": 11, "labelFontSize": 27, "labelOffset": 35, "symbolOffset": 17.5, "rowPadding": 12, "symbolSize": 400, "symbolStrokeWidth": 2.2, "labelLimit": 500}},
                "shape": {"field": "model", "type": "nominal", "scale": {"domain": ["seq2seq", "seq2seq_attn", "TrAISformer", "MART"], "range": [
                            "M-2.9,0H2.9M-0.3,0A0.3,0.3,0,1,0,0.3,0A0.3,0.3,0,1,0,-0.3,0Z",
                            "M-2.9,0H2.9M-0.4,0.28L0,-0.42L0.4,0.28Z",
                            "M-2.9,0H2.9M-0.4,-0.28L0,0.42L0.4,-0.28Z",
                            "M-2.9,0H2.9M-0.38,-0.38H0.38V0.38H-0.38Z"]},
                         "legend": {"title": null, "orient": "none", "legendX": 14, "legendY": 26, "fillColor": "#ffffff", "strokeColor": "#cccccc", "cornerRadius": 5, "padding": 11, "labelFontSize": 27, "labelOffset": 35, "symbolOffset": 17.5, "rowPadding": 12, "symbolSize": 400, "symbolStrokeWidth": 2.2, "labelLimit": 500}}
              }
            }
          ],
          "resolve": {"scale": {"shape": "independent", "fill": "independent", "stroke": "independent"}}
        },
        {
          "data": {"values": [{"edge": 0}, {"edge": 900}]},
          "mark": {"type": "rule", "color": "#000", "strokeWidth": 2},
          "encoding": {
            "x": {"field": "edge", "type": "quantitative", "title": "prediction duration(hour)"},
            "y": {"datum": 0, "type": "quantitative", "title": "prediction error(km)"},
            "y2": {"datum": 20}
          }
        }
      ]
    },
    {
      "width": 976,
      "height": 642,
      "data": {"name": "b"},
      "view": {"stroke": "#000", "strokeWidth": 2},
      "title": {"text": "(b)", "orient": "bottom", "anchor": "middle", "frame": "group", "font": "Liberation Serif", "fontSize": 50, "fontWeight": "bold", "color": "#000", "offset": 115, "dx": -18},
      "encoding": {
        "x": {"field": "t", "type": "quantitative", "title": "prediction duration(hour)", "scale": {"domain": [0, 900], "nice": false, "zero": false},
              "axis": {"values": [0, 180, 360, 540, 720, 900], "labelExpr": "format(datum.value / 60, 'd')", "labelFlush": false, "domain": true, "domainWidth": 3, "titlePadding": 15}},
        "y": {"field": "err", "type": "quantitative", "title": "prediction error(km)", "scale": {"domain": [0, 22.5], "nice": false, "zero": false},
              "axis": {"values": [0, 2.5, 5, 7.5, 10, 12.5, 15, 17.5, 20, 22.5], "format": ".1f", "labelFlush": false, "domain": false, "titlePadding": 12}}
      },
      "layer": [
        {
          "mark": {"type": "line"},
          "encoding": {
            "color": {"field": "model", "type": "nominal", "scale": {"domain": ["seq2seq", "seq2seq_attn", "TrAISformer", "MART"], "range": ["#ff0000", "#0000ff", "#008000", "#800080"]}, "legend": null},
            "strokeWidth": {"field": "model", "type": "nominal", "scale": {"domain": ["seq2seq", "seq2seq_attn", "TrAISformer", "MART"], "range": [2, 1.8, 2.5, 3]}, "legend": null}
          }
        },
        {
          "mark": {"type": "point", "filled": true, "opacity": 1},
          "encoding": {
            "color": {"field": "model", "type": "nominal", "scale": {"domain": ["seq2seq", "seq2seq_attn", "TrAISformer", "MART"], "range": ["#ff0000", "#0000ff", "#008000", "#800080"]}, "legend": null},
            "shape": {"field": "model", "type": "nominal", "scale": {"domain": ["seq2seq", "seq2seq_attn", "TrAISformer", "MART"], "range": ["circle", "triangle-up", "triangle-down", "square"]}, "legend": null},
            "size": {"field": "model", "type": "nominal", "scale": {"domain": ["seq2seq", "seq2seq_attn", "TrAISformer", "MART"], "range": [64, 81, 81, 100]}, "legend": null}
          }
        },
        {
          "transform": [{"filter": "false"}],
          "mark": {"type": "point", "filled": true, "opacity": 1, "size": 400},
          "encoding": {
            "fill": {"field": "model", "type": "nominal", "scale": {"domain": ["seq2seq", "seq2seq_attn", "TrAISformer", "MART"], "range": ["#ff0000", "#0000ff", "#008000", "#800080"]},
                     "legend": {"title": null, "orient": "none", "legendX": 14, "legendY": 10, "fillColor": "#ffffff", "strokeColor": "#cccccc", "cornerRadius": 5, "padding": 11, "labelFontSize": 29, "labelOffset": 33, "symbolOffset": 19, "rowPadding": 13, "symbolSize": 400, "symbolStrokeWidth": 2.2, "labelLimit": 500}},
            "stroke": {"field": "model", "type": "nominal", "scale": {"domain": ["seq2seq", "seq2seq_attn", "TrAISformer", "MART"], "range": ["#ff0000", "#0000ff", "#008000", "#800080"]},
                     "legend": {"title": null, "orient": "none", "legendX": 14, "legendY": 10, "fillColor": "#ffffff", "strokeColor": "#cccccc", "cornerRadius": 5, "padding": 11, "labelFontSize": 29, "labelOffset": 33, "symbolOffset": 19, "rowPadding": 13, "symbolSize": 400, "symbolStrokeWidth": 2.2, "labelLimit": 500}},
            "shape": {"field": "model", "type": "nominal", "scale": {"domain": ["seq2seq", "seq2seq_attn", "TrAISformer", "MART"], "range": [
                        "M-3.05,0H3.05M-0.3,0A0.3,0.3,0,1,0,0.3,0A0.3,0.3,0,1,0,-0.3,0Z",
                        "M-3.05,0H3.05M-0.4,0.28L0,-0.42L0.4,0.28Z",
                        "M-3.05,0H3.05M-0.4,-0.28L0,0.42L0.4,-0.28Z",
                        "M-3.05,0H3.05M-0.38,-0.38H0.38V0.38H-0.38Z"]},
                     "legend": {"title": null, "orient": "none", "legendX": 14, "legendY": 10, "fillColor": "#ffffff", "strokeColor": "#cccccc", "cornerRadius": 5, "padding": 11, "labelFontSize": 29, "labelOffset": 33, "symbolOffset": 19, "rowPadding": 13, "symbolSize": 400, "symbolStrokeWidth": 2.2, "labelLimit": 500}}
          }
        }
      ],
      "resolve": {"scale": {"shape": "independent", "fill": "independent", "stroke": "independent"}}
    }
  ],
  "config": {
    "view": {"stroke": null},
    "font": "DejaVu Sans",
    "axis": {"labelFont": "DejaVu Sans", "labelFontSize": 25, "labelColor": "#000", "titleFont": "DejaVu Sans", "titleFontSize": 31, "titleFontWeight": "normal", "titleColor": "#000", "tickColor": "#000", "tickWidth": 1.5, "tickSize": 5, "labelPadding": 3, "domainColor": "#000", "domainWidth": 2, "grid": false},
    "legend": {"labelFont": "DejaVu Sans", "labelColor": "#000", "labelLimit": 500, "symbolOpacity": 1}
  }
}
